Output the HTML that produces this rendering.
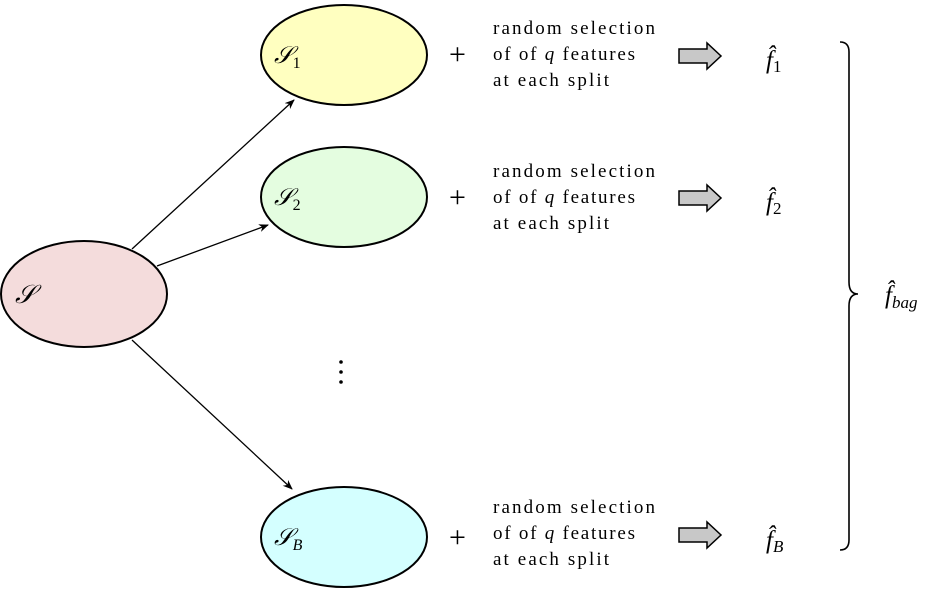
<!DOCTYPE html>
<html><head><meta charset="utf-8"><style>
html,body{margin:0;padding:0;background:#fff;}
svg{display:block;font-family:"Liberation Serif",serif;}
</style></head><body>
<svg width="931" height="589" viewBox="0 0 931 589">
<defs><marker id="ah" markerWidth="10" markerHeight="8" refX="9" refY="4" orient="auto" markerUnits="userSpaceOnUse"><path d="M0,0 L10,4 L0,8 L3,4 Z" fill="#000"/></marker></defs>
<g>
<ellipse cx="84" cy="294" rx="83" ry="53" fill="#f4dcdc" stroke="#000" stroke-width="2"/>
<text x="15" y="303" font-size="26" font-style="italic">𝒮</text></g>
<g stroke="#000" stroke-width="1.3">
<line x1="132" y1="249" x2="294" y2="100" marker-end="url(#ah)"/>
<line x1="157" y1="266" x2="268" y2="225" marker-end="url(#ah)"/>
<line x1="132" y1="340" x2="292" y2="489" marker-end="url(#ah)"/></g>
<g><ellipse cx="344" cy="55" rx="83" ry="50" fill="#ffffc0" stroke="#000" stroke-width="2"/><text x="274" y="63" font-size="24" font-style="italic">𝒮<tspan font-size="16" font-style="normal" dy="5">1</tspan></text></g>
<g><ellipse cx="344" cy="197" rx="83" ry="50" fill="#e4fde0" stroke="#000" stroke-width="2"/><text x="274" y="205" font-size="24" font-style="italic">𝒮<tspan font-size="16" font-style="normal" dy="5">2</tspan></text></g>
<g><ellipse cx="344" cy="537" rx="83" ry="50" fill="#d4ffff" stroke="#000" stroke-width="2"/><text x="274" y="545" font-size="24" font-style="italic">𝒮<tspan font-size="16" dy="5">B</tspan></text></g>
<g fill="#000"><circle cx="341" cy="362" r="1.8"/><circle cx="341" cy="372" r="1.8"/><circle cx="341" cy="382" r="1.8"/></g>
<g font-size="19">
<g><text x="449" y="64" font-size="30">+</text>
<text x="493" y="34" textLength="162">random selection</text><text x="493" y="60" textLength="142">of of <tspan font-style="italic">q</tspan> features</text><text x="493" y="86" textLength="116">at each split</text>
<path d="M679,49 H707 V43 L721,56 L707,69 V63 H679 Z" fill="#c8c8c8" stroke="#000" stroke-width="1.5"/>
<text x="766" y="68" font-size="25" font-style="italic">f̂<tspan font-size="17" font-style="normal" dy="4">1</tspan></text></g>
<g><text x="449" y="207" font-size="30">+</text>
<text x="493" y="177" textLength="162">random selection</text><text x="493" y="203" textLength="142">of of <tspan font-style="italic">q</tspan> features</text><text x="493" y="229" textLength="116">at each split</text>
<path d="M679,191 H707 V185 L721,198 L707,211 V205 H679 Z" fill="#c8c8c8" stroke="#000" stroke-width="1.5"/>
<text x="766" y="210" font-size="25" font-style="italic">f̂<tspan font-size="17" font-style="normal" dy="4">2</tspan></text></g>
<g><text x="449" y="547" font-size="30">+</text>
<text x="493" y="513" textLength="162">random selection</text><text x="493" y="539" textLength="142">of of <tspan font-style="italic">q</tspan> features</text><text x="493" y="565" textLength="116">at each split</text>
<path d="M679,528 H707 V522 L721,535 L707,548 V542 H679 Z" fill="#c8c8c8" stroke="#000" stroke-width="1.5"/>
<text x="766" y="548" font-size="25" font-style="italic">f̂<tspan font-size="17" dy="4">B</tspan></text></g>
</g>
<path d="M840,42 Q849,42 849,52 V282 Q849,294 858,294 Q849,294 849,306 V540 Q849,550 840,550" fill="none" stroke="#000" stroke-width="1.6"/>
<text x="885" y="303" font-size="25" font-style="italic">f̂<tspan font-size="17" dy="5">bag</tspan></text>
</svg>
</body></html>
